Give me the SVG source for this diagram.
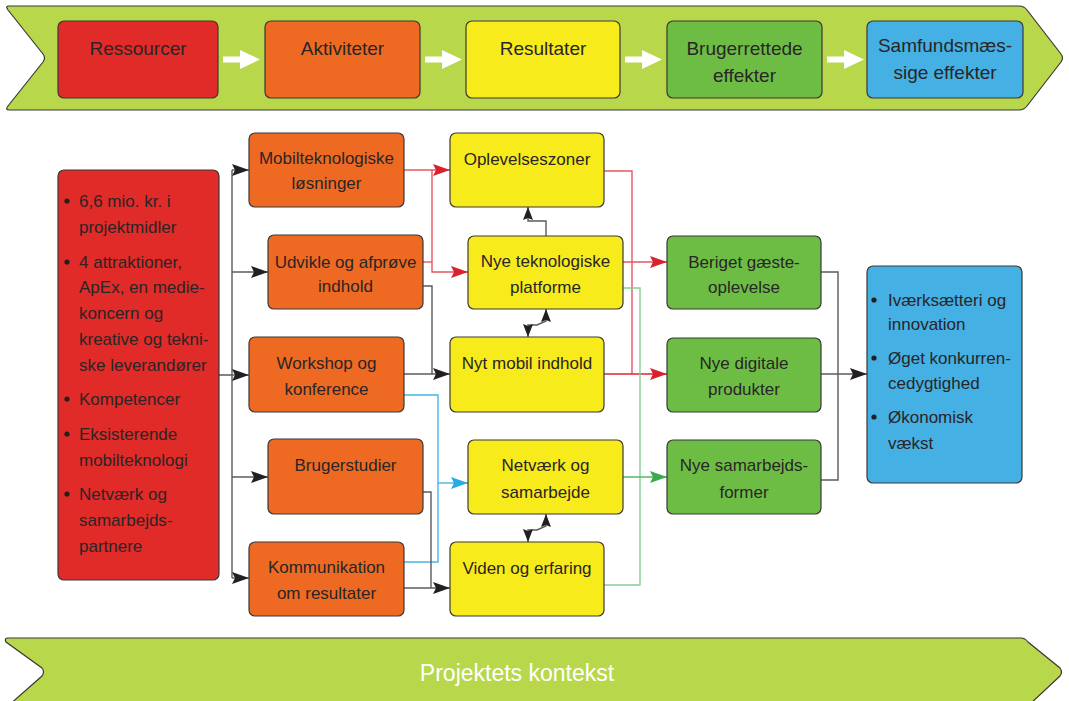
<svg xmlns="http://www.w3.org/2000/svg" width="1069" height="701" viewBox="0 0 1069 701">
<style>
text{font-family:"Liberation Sans",Arial,sans-serif;fill:#2a2526;}
.t19{font-size:19px;text-anchor:middle;}
.t17{font-size:17px;text-anchor:middle;}
.b17{font-size:17px;}
.box{stroke:#3b3838;stroke-width:1.2;}
.red{fill:#e02b28;}
.org{fill:#ee6a23;}
.yel{fill:#f8eb1b;}
.grn{fill:#6dbd45;}
.blu{fill:#44b0e3;}
.ban{fill:#b9d74a;stroke:#3b3838;stroke-width:1.2;}
.c{fill:none;stroke-width:1.4;}
.k{stroke:#5c5a5a;}
.r{stroke:#e4565f;}
.bl{stroke:#45b6e8;}
.g{stroke:#86cf93;}
.g2{stroke:#4fb862;}
</style>
<defs>
<marker id="ak" markerUnits="userSpaceOnUse" markerWidth="18" markerHeight="12" refX="17" refY="6" orient="auto"><path d="M0,0 L17,6 L0,12 L3,6 Z" fill="#231f20"/></marker>
<marker id="ar" markerUnits="userSpaceOnUse" markerWidth="18" markerHeight="12" refX="17" refY="6" orient="auto"><path d="M0,0 L17,6 L0,12 L3,6 Z" fill="#d8222e"/></marker>
<marker id="ab" markerUnits="userSpaceOnUse" markerWidth="18" markerHeight="12" refX="17" refY="6" orient="auto"><path d="M0,0 L17,6 L0,12 L3,6 Z" fill="#2aaae2"/></marker>
<marker id="ag" markerUnits="userSpaceOnUse" markerWidth="18" markerHeight="12" refX="17" refY="6" orient="auto"><path d="M0,0 L17,6 L0,12 L3,6 Z" fill="#3aaa4a"/></marker>
<marker id="as" markerUnits="userSpaceOnUse" markerWidth="14" markerHeight="11" refX="13" refY="5" orient="auto-start-reverse"><path d="M0,0 L13,5 L0,10 L2,5 Z" fill="#231f20"/></marker>
</defs>

<g id="top-banner">
<path class="ban" d="M9,6 H1019 Q1024,6 1027,10 L1061,54 Q1064,58 1061,62 L1027,106 Q1024,110 1019,110 H9 Q5,110 8,106 L43,62 Q46,58 43,54 L8,10 Q5,6 9,6 Z"/>
<g fill="#ffffff">
<path d="M223,56.5 H240 V50 L260,59.5 L240,69 V62.5 H223 Z"/>
<path d="M425,56.5 H442 V50 L462,59.5 L442,69 V62.5 H425 Z"/>
<path d="M625,56.5 H642 V50 L662,59.5 L642,69 V62.5 H625 Z"/>
<path d="M827,56.5 H844 V50 L864,59.5 L844,69 V62.5 H827 Z"/>
</g>
</g>
<g id="h-ressourcer"><rect class="box red" x="58" y="21" width="160" height="77" rx="6"/><text class="t19" x="138" y="55">Ressourcer</text></g>
<g id="h-aktiviteter"><rect class="box org" x="265" y="21" width="155" height="77" rx="6"/><text class="t19" x="342.5" y="55">Aktiviteter</text></g>
<g id="h-resultater"><rect class="box yel" x="466" y="21" width="154" height="77" rx="6"/><text class="t19" x="543" y="55">Resultater</text></g>
<g id="h-brugerrettede"><rect class="box grn" x="667" y="21" width="155" height="77" rx="6"/><text class="t19" x="744.5" y="55">Brugerrettede</text><text class="t19" x="744.5" y="82">effekter</text></g>
<g id="h-samfund"><rect class="box blu" x="867" y="21" width="156" height="77" rx="6"/><text class="t19" x="945" y="52">Samfundsmæs-</text><text class="t19" x="945" y="79">sige effekter</text></g>

<g id="connectors">
<path class="c k" d="M219,375 H232 M232,170 V578"/>
<path class="c k" d="M232,170 H249" marker-end="url(#ak)"/>
<path class="c k" d="M232,272 H268" marker-end="url(#ak)"/>
<path class="c k" d="M232,375 H249" marker-end="url(#ak)"/>
<path class="c k" d="M232,477 H268" marker-end="url(#ak)"/>
<path class="c k" d="M232,578 H249" marker-end="url(#ak)"/>

<path class="c r" d="M404,170 H450" marker-end="url(#ar)"/>
<path class="c r" d="M432,170 V272 H468" marker-end="url(#ar)"/>
<path class="c r" d="M423,262 H432"/>
<path class="c r" d="M604,171 H632 V374"/>
<path class="c r" style="stroke:#dc2530" d="M604,374 H667" marker-end="url(#ar)"/>
<path class="c r" d="M623,262 H667" marker-end="url(#ar)"/>

<path class="c g" d="M623,288 H640 V585 H604"/>
<path class="c g2" d="M623,477 H667" marker-end="url(#ag)"/>

<path class="c bl" d="M404,395 H438 V562 H404"/>
<path class="c bl" d="M438,483 H468" marker-end="url(#ab)"/>

<path class="c k" d="M423,286 H432 V374"/>
<path class="c k" d="M404,374 H450" marker-end="url(#ak)"/>
<path class="c k" d="M423,492 H431 V588"/>
<path class="c k" d="M404,588 H450" marker-end="url(#ak)"/>

<path class="c k" d="M546,236 V221 H528 V207" marker-end="url(#as)"/>
<path class="c k" d="M528,337 V325 H537 L546,321 V309" marker-start="url(#as)" marker-end="url(#as)"/>
<path class="c k" d="M528,542 V530 H537 L546,526 V514" marker-start="url(#as)" marker-end="url(#as)"/>

<path class="c k" d="M821,272 H838 V480 H821"/>
<path class="c k" d="M821,374 H867" marker-end="url(#ak)"/>
</g>

<g id="n-ressourcer">
<rect class="box red" x="58" y="170" width="161" height="410" rx="6"/>
<g fill="#231f20"><circle cx="67" cy="201" r="2.6"/><circle cx="67" cy="262" r="2.6"/><circle cx="67" cy="399" r="2.6"/><circle cx="67" cy="434" r="2.6"/><circle cx="67" cy="494" r="2.6"/></g>
<text class="b17" x="79" y="207">6,6 mio. kr. i</text>
<text class="b17" x="79" y="233">projektmidler</text>
<text class="b17" x="79" y="268">4 attraktioner,</text>
<text class="b17" x="79" y="293">ApEx, en medie-</text>
<text class="b17" x="79" y="319">koncern og</text>
<text class="b17" x="79" y="345">kreative og tekni-</text>
<text class="b17" x="79" y="371">ske leverandører</text>
<text class="b17" x="79" y="405">Kompetencer</text>
<text class="b17" x="79" y="440">Eksisterende</text>
<text class="b17" x="79" y="466">mobilteknologi</text>
<text class="b17" x="79" y="500">Netværk og</text>
<text class="b17" x="79" y="526">samarbejds-</text>
<text class="b17" x="79" y="552">partnere</text>
</g>

<g id="n-mobilteknologiske"><rect class="box org" x="249" y="133" width="155" height="74" rx="6"/><text class="t17" x="326.5" y="164">Mobilteknologiske</text><text class="t17" x="326.5" y="189">løsninger</text></g>
<g id="n-udvikle"><rect class="box org" x="268" y="235" width="155" height="74" rx="6"/><text class="t17" x="345.5" y="268">Udvikle og afprøve</text><text class="t17" x="345.5" y="292">indhold</text></g>
<g id="n-workshop"><rect class="box org" x="249" y="337" width="155" height="75" rx="6"/><text class="t17" x="326.5" y="369">Workshop og</text><text class="t17" x="326.5" y="395">konference</text></g>
<g id="n-brugerstudier"><rect class="box org" x="268" y="439" width="155" height="75" rx="6"/><text class="t17" x="345.5" y="471">Brugerstudier</text></g>
<g id="n-kommunikation"><rect class="box org" x="249" y="542" width="155" height="74" rx="6"/><text class="t17" x="326.5" y="573">Kommunikation</text><text class="t17" x="326.5" y="599">om resultater</text></g>

<g id="n-oplevelseszoner"><rect class="box yel" x="450" y="133" width="154" height="74" rx="6"/><text class="t17" x="527" y="165">Oplevelseszoner</text></g>
<g id="n-platforme"><rect class="box yel" x="468" y="236" width="155" height="73" rx="6"/><text class="t17" x="545.5" y="267">Nye teknologiske</text><text class="t17" x="545.5" y="293">platforme</text></g>
<g id="n-nytmobil"><rect class="box yel" x="450" y="337" width="154" height="75" rx="6"/><text class="t17" x="527" y="369">Nyt mobil indhold</text></g>
<g id="n-netvaerk"><rect class="box yel" x="468" y="440" width="155" height="74" rx="6"/><text class="t17" x="545.5" y="471">Netværk og</text><text class="t17" x="545.5" y="498">samarbejde</text></g>
<g id="n-viden"><rect class="box yel" x="450" y="542" width="154" height="74" rx="6"/><text class="t17" x="527" y="574">Viden og erfaring</text></g>

<g id="n-beriget"><rect class="box grn" x="667" y="236" width="154" height="73" rx="6"/><text class="t17" x="744" y="268">Beriget gæste-</text><text class="t17" x="744" y="293">oplevelse</text></g>
<g id="n-digitale"><rect class="box grn" x="667" y="338" width="154" height="74" rx="6"/><text class="t17" x="744" y="369">Nye digitale</text><text class="t17" x="744" y="395">produkter</text></g>
<g id="n-samarbejdsformer"><rect class="box grn" x="667" y="440" width="154" height="74" rx="6"/><text class="t17" x="744" y="471">Nye samarbejds-</text><text class="t17" x="744" y="498">former</text></g>

<g id="n-samfund">
<rect class="box blu" x="867" y="266" width="155" height="217" rx="6"/>
<g fill="#231f20"><circle cx="874" cy="300" r="2.6"/><circle cx="874" cy="358" r="2.6"/><circle cx="874" cy="417" r="2.6"/></g>
<text class="b17" x="888" y="306">Iværksætteri og</text>
<text class="b17" x="888" y="330">innovation</text>
<text class="b17" x="888" y="364">Øget konkurren-</text>
<text class="b17" x="888" y="389">cedygtighed</text>
<text class="b17" x="888" y="423">Økonomisk</text>
<text class="b17" x="888" y="449">vækst</text>
</g>

<g id="bottom-banner">
<path class="ban" d="M8,638 H1021 Q1025,638 1028,642 L1060,668 Q1063,672 1060,676 L1028,706 H8 L42,676 Q45,672 42,668 L6,642 Q4,638 8,638 Z"/>
<text x="517" y="681" style="font-size:23px;text-anchor:middle;fill:#ffffff;">Projektets kontekst</text>
</g>
</svg>
